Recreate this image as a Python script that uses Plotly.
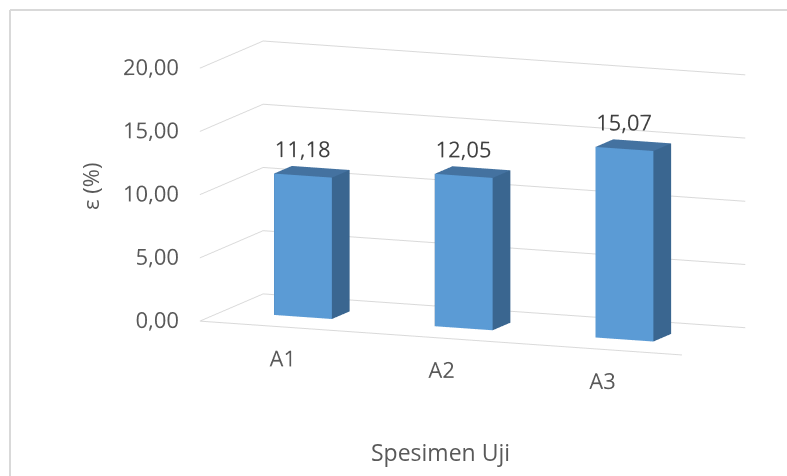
import plotly.graph_objects as go
import numpy as np

categories = ["A1", "A2", "A3"]
values = [11.18, 12.05, 15.07]
tick_vals = [0, 5, 10, 15, 20]
y_title = "ε (%)"
x_title = "Spesimen Uji"

FRONT = "#5B9BD5"
SIDE = "#3A6690"
TOP = "#4472A0"
GRID = "#d9d9d9"
TXT = "#595959"
FS = 22

half_w = 0.18
d0, d1 = 0.36, 0.64
x_rng = [-0.5, 2.5]
z_rng = [-3, 20]
NB = "\u00a0"

fig = go.Figure()

for i, v in enumerate(values):
    x0, x1 = i - half_w, i + half_w
    xs = [x0, x1, x1, x0, x0, x1, x1, x0]
    ys = [d0, d0, d1, d1, d0, d0, d1, d1]
    zs = [0, 0, 0, 0, v, v, v, v]
    I = [0, 0, 1, 1, 4, 4, 3, 3, 0, 0, 2, 2]
    J = [1, 5, 2, 6, 5, 6, 7, 4, 3, 2, 3, 7]
    K = [5, 4, 6, 5, 6, 7, 4, 0, 2, 1, 7, 6]
    cols = [FRONT, FRONT, SIDE, SIDE, TOP, TOP, SIDE, SIDE, SIDE, SIDE, SIDE, SIDE]
    fig.add_trace(go.Mesh3d(
        x=xs, y=ys, z=zs, i=I, j=J, k=K, facecolor=cols, flatshading=True,
        lighting=dict(ambient=1, diffuse=0, specular=0, fresnel=0, roughness=1),
        hoverinfo="skip", showscale=False))

# floor front edge (category axis line at value 0)
fig.add_trace(go.Scatter3d(
    x=x_rng, y=[0, 0], z=[0, 0], mode="lines",
    line=dict(color=GRID, width=2), hoverinfo="skip", showlegend=False))

# data labels
fig.add_trace(go.Scatter3d(
    x=list(range(len(values))), y=[d0] * len(values), z=[v + 2.0 for v in values],
    mode="text", textposition="middle center",
    text=[f"{v:.2f}".replace(".", ",") for v in values],
    textfont=dict(family="Open Sans", size=FS, color="#404040"),
    hoverinfo="skip", showlegend=False))

# value axis labels
fig.add_trace(go.Scatter3d(
    x=[x_rng[0]] * len(tick_vals), y=[0] * len(tick_vals), z=tick_vals,
    mode="text", textposition="middle left",
    text=[f"{t:.2f}".replace(".", ",") + NB * 4 for t in tick_vals],
    textfont=dict(family="Open Sans", size=FS, color=TXT),
    hoverinfo="skip", showlegend=False))

# category labels
fig.add_trace(go.Scatter3d(
    x=list(range(len(categories))), y=[0] * len(categories),
    z=[-2.5] * len(categories), mode="text", textposition="middle center",
    text=categories,
    textfont=dict(family="Open Sans", size=FS, color=TXT),
    hoverinfo="skip", showlegend=False))

yaw = np.radians(22)
pitch = np.radians(10)
r = 4.59
fwd = np.array([np.sin(yaw) * np.cos(pitch), -np.cos(yaw) * np.cos(pitch), np.sin(pitch)])
right = np.array([np.cos(yaw), np.sin(yaw), 0.0])
up = np.array([-np.sin(yaw) * np.sin(pitch), np.cos(yaw) * np.sin(pitch), np.cos(pitch)])
ctr = (-(67 / 168.0) * right - (28 / 168.0) * up
       + (6 / 205.0) * right + (14 / 205.0) * up)
eyev = r * fwd + ctr

fig.update_layout(
    width=787, height=476,
    margin=dict(l=0, r=0, t=0, b=0),
    paper_bgcolor="white",
    showlegend=False,
    font=dict(family="Open Sans", color=TXT, size=FS),
    scene=dict(
        domain=dict(x=[0.0, 1.0], y=[0.05, 0.95]),
        aspectmode="manual",
        aspectratio=dict(x=2.43, y=0.79, z=1.38),
        xaxis=dict(range=x_rng, showticklabels=False, showgrid=False, zeroline=False,
                   showline=False, showbackground=False, title=dict(text=""),
                   ticks="", showspikes=False),
        yaxis=dict(range=[0, 1], showgrid=False, zeroline=False, showline=False,
                   showticklabels=False, showbackground=False, title=dict(text=""),
                   ticks="", showspikes=False),
        zaxis=dict(range=z_rng, tickvals=tick_vals, showticklabels=False,
                   showgrid=True, gridcolor=GRID, gridwidth=2, zeroline=False,
                   showline=False, showbackground=False, title=dict(text=""),
                   ticks="", showspikes=False),
        camera=dict(eye=dict(x=eyev[0], y=eyev[1], z=eyev[2]),
                    center=dict(x=ctr[0], y=ctr[1], z=ctr[2]),
                    up=dict(x=0, y=0, z=1), projection=dict(type="orthographic")),
        dragmode=False,
    ),
    annotations=[
        dict(text=y_title, x=90 / 787, y=1 - 187 / 476, xref="paper", yref="paper",
             xanchor="center", yanchor="middle",
             showarrow=False, textangle=-90, font=dict(size=FS, color=TXT)),
        dict(text=x_title, x=441 / 787, y=1 - 452 / 476, xref="paper", yref="paper",
             xanchor="center", yanchor="middle",
             showarrow=False, font=dict(size=23, color=TXT)),
    ],
    shapes=[
        dict(type="line", xref="paper", yref="paper", x0=10 / 787, x1=1.0,
             y0=1 - 10 / 476, y1=1 - 10 / 476, line=dict(color=GRID, width=2)),
        dict(type="line", xref="paper", yref="paper", x0=10 / 787, x1=10 / 787,
             y0=0, y1=1 - 10 / 476, line=dict(color=GRID, width=2)),
    ],
)

fig.write_html("out.html")
